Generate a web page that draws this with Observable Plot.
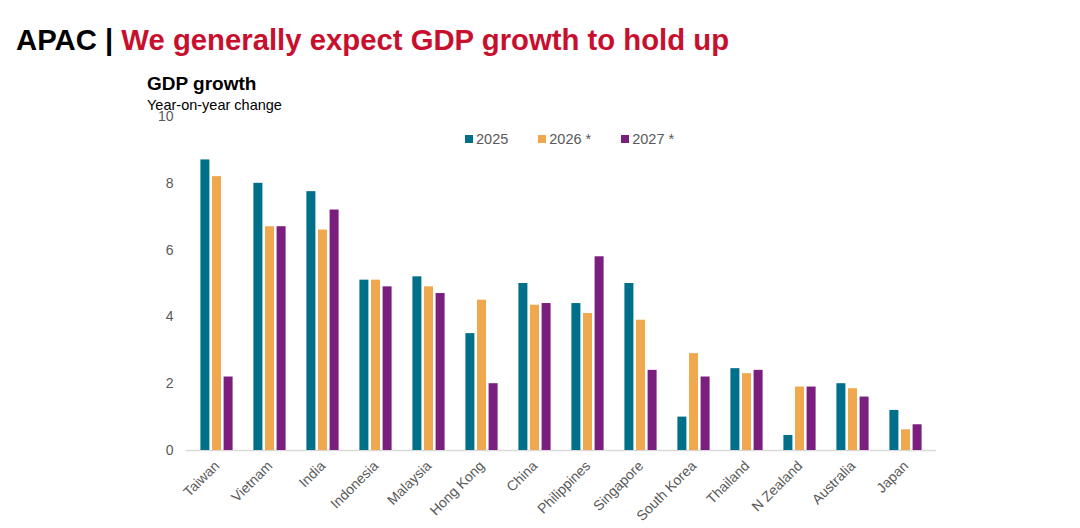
<!DOCTYPE html>
<html><head><meta charset="utf-8">
<script src="https://cdn.jsdelivr.net/npm/d3@7"></script>
<script src="https://cdn.jsdelivr.net/npm/@observablehq/plot@0.6"></script>
<style>
body{margin:0;background:#fff;font-family:"Liberation Sans",Arial,sans-serif;}
#wrap{position:relative;width:1080px;height:528px;overflow:hidden;background:#fff;}
#chart{position:absolute;left:0;top:0;}
.t{position:absolute;white-space:nowrap;line-height:1;}
#legend{display:flex;align-items:center;}
#legend .it{display:flex;align-items:center;margin-right:30px;}
#legend .sw{width:8px;height:8px;margin-right:3px;}
</style></head><body>
<div id="wrap">
<div id="chart"></div>
<div class="t" style="left:16px;top:25px;font-size:29.3px;font-weight:bold;color:#000">APAC | <span style="color:#C8102E">We generally expect GDP growth to hold up</span></div>
<div class="t" style="left:147px;top:74px;font-size:19px;font-weight:bold;color:#000">GDP growth</div>
<div class="t" style="left:147px;top:98px;font-size:14.5px;color:#000">Year-on-year change</div>
<div class="t" id="legend" style="left:465px;top:132px;font-size:14.5px;color:#595959"></div>
</div>
<script>
const countries = ["Taiwan","Vietnam","India","Indonesia","Malaysia","Hong Kong","China","Philippines","Singapore","South Korea","Thailand","N Zealand","Australia","Japan"];
const years = ["2025","2026 *","2027 *"];
const colors = ["#00708A","#F0A84E","#7A1F7E"];
const v2025 = [8.7,8.0,7.75,5.1,5.2,3.5,5.0,4.4,5.0,1.0,2.45,0.45,2.0,1.2];
const v2026 = [8.2,6.7,6.6,5.1,4.9,4.5,4.35,4.1,3.9,2.9,2.3,1.9,1.85,0.62];
const v2027 = [2.2,6.7,7.2,4.9,4.7,2.0,4.4,5.8,2.4,2.2,2.4,1.9,1.6,0.77];
const yTicks = [0,2,4,6,8,10];

const series = [v2025, v2026, v2027];
const data = years.flatMap((yr, i) => countries.map((c, j) => ({country: c, year: yr, value: series[i][j]})));
const offset = 11.6;

const chart = Plot.plot({
  width: 1080, height: 528,
  marginTop: 116, marginBottom: 78, marginLeft: 186, marginRight: 144,
  style: {fontFamily: "'Liberation Sans', Arial, sans-serif", fontSize: "14px", color: "#595959", background: "transparent"},
  x: {domain: countries, paddingInner: 0.83, paddingOuter: 0.415, tickRotate: -45, tickSize: 0, tickPadding: 13, label: null},
  y: {domain: [0, 10], ticks: yTicks, tickSize: 0, tickPadding: 13, label: null},
  color: {domain: years, range: colors},
  marks: [
    Plot.ruleY([0], {stroke: "#d9d9d9", strokeWidth: 1.5}),
    ...years.map((yr, i) => Plot.barY(data.filter(d => d.year === yr), {x: "country", y: "value", fill: "year", dx: (i - 1) * offset}))
  ]
});
document.getElementById("chart").appendChild(chart);

const leg = document.getElementById("legend");
years.forEach((yr, i) => {
  const it = document.createElement("div"); it.className = "it";
  const sw = document.createElement("div"); sw.className = "sw"; sw.style.background = colors[i];
  const tx = document.createElement("span"); tx.textContent = yr;
  it.appendChild(sw); it.appendChild(tx); leg.appendChild(it);
});
</script>
</body></html>
